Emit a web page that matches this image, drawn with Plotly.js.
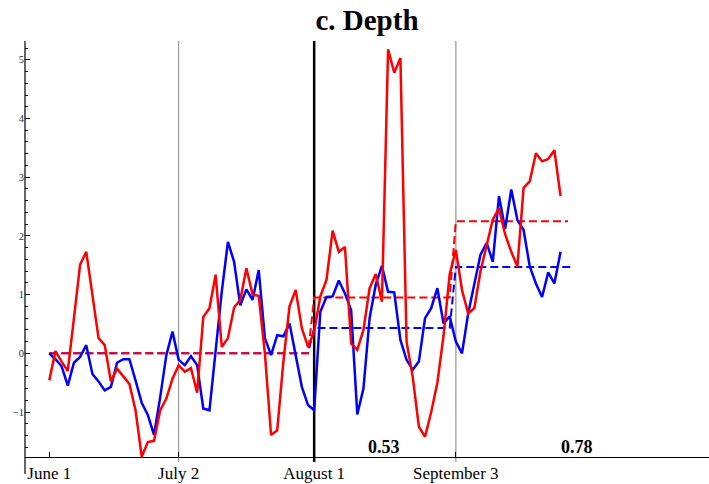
<!DOCTYPE html>
<html><head><meta charset="utf-8">
<script src="https://cdn.plot.ly/plotly-3.0.1.min.js"></script>
<style>html,body{margin:0;padding:0;background:#fff}#chart{width:709px;height:484px}</style>
</head><body><div id="chart"></div>
<script>
const tickLabels = ['June 1', 'July 2', 'August 1', 'September 3'];
const tickIndex = [0, 21, 43, 66];
const yTicks = [-1, 0, 1, 2, 3, 4, 5];

const redSeries = [-0.46, 0.04, -0.14, -0.3, 0.6, 1.51, 1.73, 1.0, 0.26, 0.14,
  -0.48, -0.26, -0.4, -0.52, -0.97, -1.76, -1.51, -1.49, -0.97, -0.77,
  -0.43, -0.2, -0.31, -0.25, -0.67, 0.62, 0.77, 1.34, 0.11, 0.26,
  0.78, 0.91, 1.45, 1.0, 0.98, 0.0, -1.39, -1.31, -0.14, 0.8,
  1.08, 0.43, 0.11, 0.37, 0.97, 1.25, 2.09, 1.73, 1.81, 0.17,
  0.06, 0.4, 1.11, 1.35, 0.88, 5.18, 4.78, 5.03, 0.2, -0.4,
  -1.25, -1.42, -1.0, -0.5, 0.3, 1.35, 1.76, 1.08, 0.68, 0.77,
  1.4, 1.86, 2.28, 2.47, 2.03, 1.73, 1.48, 2.82, 2.93, 3.41,
  3.27, 3.31, 3.46, 2.68];

const blueSeries = [0.0, -0.1, -0.22, -0.55, -0.16, -0.06, 0.14, -0.35, -0.48, -0.63,
  -0.57, -0.16, -0.1, -0.1, -0.46, -0.84, -1.05, -1.39, -0.75, -0.03,
  0.37, -0.11, -0.2, -0.05, -0.2, -0.94, -0.97, 0.0, 1.05, 1.9,
  1.56, 0.82, 1.09, 0.91, 1.42, 0.26, -0.03, 0.31, 0.29, 0.51,
  0.0, -0.57, -0.88, -0.97, 0.71, 0.96, 0.97, 1.24, 1.02, 0.74,
  -1.04, -0.6, 0.6, 1.17, 1.49, 1.05, 1.04, 0.23, -0.11, -0.28,
  -0.14, 0.6, 0.77, 1.11, 0.51, 0.63, 0.2, 0.0, 0.68, 1.19,
  1.68, 1.88, 1.56, 2.68, 2.12, 2.79, 2.27, 2.1, 1.48, 1.19,
  0.96, 1.38, 1.19, 1.73];

const periodStart = [0, 43, 66];
const redPeriodEnd = [42, 65, 84.2];
const bluePeriodEnd = [42, 65, 85];
const redMeans = [0, 0.95, 2.25];
const blueMeans = [0, 0.43, 1.47];
const corrLabels = ['0.53', '0.78'];

function stepLine(means, ends) {
  const xs = [], ys = [];
  for (let p = 0; p < means.length; p++) {
    xs.push(periodStart[p], ends[p]);
    ys.push(means[p], means[p]);
  }
  return {x: xs, y: ys};
}
const idx = redSeries.map((_, i) => i);
const rs = stepLine(redMeans, redPeriodEnd), bs = stepLine(blueMeans, bluePeriodEnd);

const traces = [
  {x: bs.x, y: bs.y, mode: 'lines', line: {color: '#0000ff', width: 2, dash: '8px,4px'}, hoverinfo: 'skip'},
  {x: rs.x, y: rs.y, mode: 'lines', line: {color: '#ff0000', width: 2, dash: '8px,4px'}, hoverinfo: 'skip'},
  {x: idx, y: blueSeries, mode: 'lines', line: {color: '#0000ff', width: 2.5}},
  {x: idx, y: redSeries, mode: 'lines', line: {color: '#ff0000', width: 2.5}}
];

const serif = 'Liberation Serif, Times New Roman, serif';
const shapes = [
  {type: 'line', xref: 'x', yref: 'paper', x0: tickIndex[1], x1: tickIndex[1], y0: -0.012, y1: 1, line: {color: '#8a8a8a', width: 1}, layer: 'below'},
  {type: 'line', xref: 'x', yref: 'paper', x0: tickIndex[3], x1: tickIndex[3], y0: -0.012, y1: 1, line: {color: '#aaaaaa', width: 1.5}, layer: 'below'},
  {type: 'line', xref: 'x', yref: 'paper', x0: tickIndex[2], x1: tickIndex[2], y0: -0.012, y1: 1, line: {color: '#000000', width: 2.5}, layer: 'below'},
  {type: 'line', xref: 'paper', yref: 'paper', x0: 0, x1: 0, y0: -0.041, y1: 1, line: {color: '#000000', width: 1.2}}
];

const layout = {
  width: 709, height: 484,
  margin: {l: 25, r: 0, t: 41, b: 27},
  paper_bgcolor: '#ffffff', plot_bgcolor: '#ffffff',
  showlegend: false,
  title: {text: '<b>c. Depth</b>', font: {family: serif, size: 29, color: '#000'},
          x: 0.5, xref: 'paper', xanchor: 'center', y: 0.958, yref: 'container', yanchor: 'middle'},
  xaxis: {
    range: [-3.945, 107.1], tickmode: 'array', tickvals: tickIndex, ticktext: tickLabels,
    ticks: 'inside', ticklen: 5, tickwidth: 1, tickcolor: '#000',
    showline: true, linecolor: '#000', linewidth: 1.2, showgrid: false, zeroline: false,
    tickfont: {family: serif, size: 17, color: '#000'}
  },
  yaxis: {
    range: [-1.765, 5.32], tickmode: 'array', tickvals: yTicks,
    ticks: 'inside', ticklen: 5, tickwidth: 1, tickcolor: '#000',
    minor: {dtick: 0.2, tick0: 0, ticks: 'inside', ticklen: 3, tickwidth: 1, tickcolor: '#000', showgrid: false},
    showline: false, showgrid: false, zeroline: false,
    tickfont: {family: serif, size: 10.5, color: '#333'}
  },
  shapes: shapes,
  annotations: [
    {xref: 'x', yref: 'y', x: 54.3, y: -1.6, text: '<b>' + corrLabels[0] + '</b>', showarrow: false,
     font: {family: serif, size: 18, color: '#000'}},
    {xref: 'x', yref: 'y', x: 85.6, y: -1.6, text: '<b>' + corrLabels[1] + '</b>', showarrow: false,
     font: {family: serif, size: 18, color: '#000'}}
  ]
};

Plotly.newPlot('chart', traces, layout, {staticPlot: true, displayModeBar: false});
</script>
</body></html>
